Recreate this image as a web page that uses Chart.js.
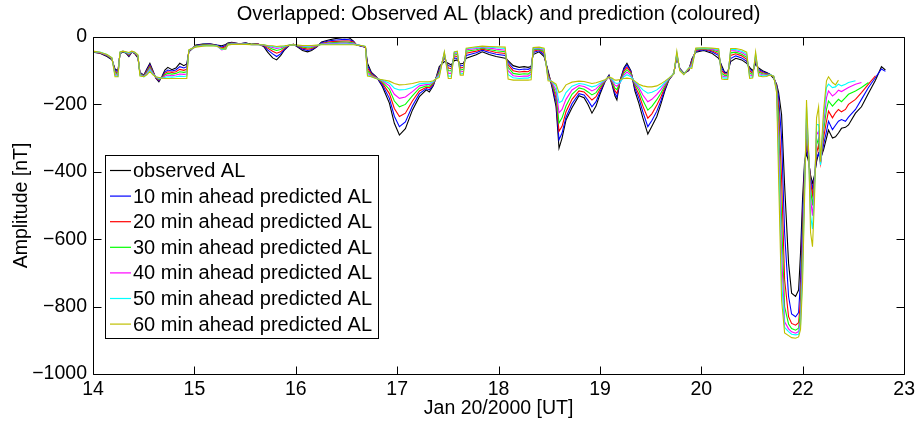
<!DOCTYPE html>
<html>
<head>
<meta charset="utf-8">
<title>Observed and predicted AL</title>
<script src="https://cdn.jsdelivr.net/npm/chart.js@4.4.0/dist/chart.umd.min.js"></script>
<style>
  html, body { margin: 0; padding: 0; background: #ffffff; }
  canvas { display: block; }
</style>
</head>
<body>
<canvas id="alChart" width="919" height="422"></canvas>
<script>
// Time of each sample, in axis units (one unit per labelled tick).
const tDays = [
  0, 0.069, 0.138, 0.187, 0.217, 0.246, 0.266, 0.295, 0.325, 0.354,
  0.384, 0.413, 0.443, 0.463, 0.502, 0.531, 0.561, 0.591, 0.620, 0.650,
  0.679, 0.709, 0.738, 0.778, 0.817, 0.856, 0.896, 0.925, 0.945, 0.974,
  1.014, 1.083, 1.152, 1.220, 1.270, 1.309, 1.329, 1.368, 1.447, 1.506,
  1.565, 1.624, 1.683, 1.722, 1.772, 1.811, 1.850, 1.890, 1.939, 1.978,
  2.018, 2.067, 2.116, 2.156, 2.205, 2.254, 2.333, 2.402, 2.480, 2.530,
  2.569, 2.598, 2.648, 2.687, 2.707, 2.746, 2.795, 2.854, 2.923, 2.972,
  3.022, 3.081, 3.150, 3.219, 3.287, 3.317, 3.356, 3.386, 3.415, 3.465,
  3.504, 3.533, 3.563, 3.593, 3.622, 3.652, 3.681, 3.780, 3.839, 3.907,
  3.976, 4.065, 4.094, 4.144, 4.203, 4.252, 4.291, 4.321, 4.341, 4.400,
  4.449, 4.488, 4.528, 4.567, 4.596, 4.626, 4.665, 4.724, 4.793, 4.843,
  4.882, 4.921, 4.961, 5.000, 5.049, 5.089, 5.118, 5.148, 5.167, 5.197,
  5.236, 5.266, 5.305, 5.344, 5.384, 5.423, 5.472, 5.512, 5.561, 5.600,
  5.640, 5.679, 5.728, 5.758, 5.787, 5.827, 5.876, 5.906, 5.945, 6.024,
  6.102, 6.171, 6.201, 6.230, 6.260, 6.289, 6.339, 6.398, 6.447, 6.476,
  6.506, 6.535, 6.565, 6.604, 6.644, 6.673, 6.713, 6.742, 6.762, 6.791,
  6.821, 6.860, 6.890, 6.929, 6.959, 6.978, 6.998, 7.018, 7.037, 7.057,
  7.077, 7.096, 7.116, 7.136, 7.156, 7.175, 7.205, 7.234, 7.254, 7.293,
  7.323, 7.352, 7.382, 7.421, 7.451, 7.520, 7.579, 7.648, 7.717, 7.776,
  7.815
];

const xTickLabels = ['14', '15', '16', '17', '18', '19', '20', '22', '23'];

// AL index [nT]
const observedAL = [
  -45, -48, -58, -68, -95, -100, -50, -44, -48, -58,
  -44, -50, -62, -105, -113, -95, -78, -100, -122, -133,
  -118, -98, -90, -97, -92, -78, -85, -80, -44, -36,
  -24, -21, -20, -24, -26, -22, -18, -16, -20, -17,
  -22, -20, -28, -45, -62, -68, -55, -38, -24, -22,
  -30, -40, -44, -40, -30, -15, -8, -4, -1, -3,
  -12, -24, -27, -30, -78, -105, -118, -147, -196, -256,
  -291, -272, -217, -177, -157, -163, -145, -118, -88, -73,
  -78, -83, -70, -68, -80, -78, -63, -53, -44, -52,
  -58, -63, -70, -85, -90, -88, -90, -88, -52, -44,
  -58, -100, -150, -207, -330, -300, -246, -210, -174, -180,
  -200, -226, -205, -170, -133, -113, -140, -175, -187, -130,
  -92, -78, -100, -160, -197, -240, -288, -265, -236, -200,
  -160, -128, -108, -58, -93, -108, -100, -65, -45, -40,
  -48, -63, -85, -105, -105, -73, -63, -68, -78, -90,
  -100, -80, -92, -100, -105, -110, -123, -140, -165, -230,
  -440, -671, -760, -770, -751, -640, -480, -370, -345, -370,
  -410, -434, -410, -370, -345, -360, -335, -300, -276, -300,
  -296, -285, -271, -268, -261, -226, -207, -167, -128, -88,
  -98
];

const pred10 = [
  -45, -47, -56, -66, -98, -104, -49, -44, -47, -56,
  -44, -49, -60, -106, -114, -98, -82, -102, -122, -130,
  -120, -104, -98, -101, -98, -88, -92, -88, -43, -36,
  -25, -22, -21, -24, -30, -25, -19, -17, -20, -18,
  -22, -21, -26, -38, -50, -58, -50, -36, -24, -22,
  -28, -36, -40, -37, -29, -17, -11, -9, -7, -8,
  -13, -23, -27, -30, -85, -108, -119, -142, -182, -235,
  -266, -252, -205, -168, -153, -157, -142, -119, -95, -62,
  -85, -88, -62, -64, -86, -84, -55, -47, -39, -46,
  -51, -55, -75, -93, -97, -95, -96, -92, -46, -41,
  -52, -105, -145, -195, -305, -285, -238, -198, -168, -172,
  -188, -207, -192, -163, -132, -115, -137, -168, -178, -132,
  -96, -83, -102, -152, -182, -222, -266, -248, -220, -190,
  -155, -127, -108, -56, -94, -108, -98, -68, -42, -38,
  -44, -55, -92, -107, -107, -64, -56, -62, -72, -95,
  -104, -74, -96, -103, -107, -110, -120, -142, -180, -300,
  -580, -770, -822, -830, -818, -720, -530, -385, -325, -360,
  -420, -450, -415, -360, -345, -370, -320, -280, -250, -275,
  -262, -250, -245, -250, -238, -215, -185, -150, -120, -95,
  -102
];

const pred20 = [
  -44, -47, -55, -65, -102, -108, -48, -43, -46, -54,
  -44, -48, -58, -108, -115, -101, -86, -104, -121, -128,
  -121, -108, -103, -105, -103, -96, -99, -96, -42, -35,
  -26, -23, -22, -25, -33, -28, -20, -18, -20, -19,
  -22, -21, -25, -33, -42, -48, -44, -33, -24, -22,
  -27, -33, -36, -34, -28, -19, -14, -13, -12, -12,
  -15, -23, -26, -30, -92, -111, -120, -137, -168, -212,
  -236, -226, -190, -160, -149, -151, -139, -120, -100, -56,
  -92, -94, -56, -58, -92, -90, -48, -42, -36, -41,
  -46, -49, -82, -100, -104, -102, -103, -97, -42, -38,
  -47, -110, -140, -182, -280, -265, -222, -185, -160, -163,
  -175, -187, -177, -155, -131, -117, -134, -160, -167, -134,
  -101, -90, -105, -145, -170, -205, -241, -228, -202, -178,
  -150, -126, -108, -54, -95, -108, -96, -72, -39, -36,
  -41, -50, -100, -110, -110, -55, -50, -56, -66, -100,
  -108, -68, -100, -106, -109, -111, -118, -145, -210, -420,
  -720, -830, -850, -855, -848, -780, -580, -400, -301, -350,
  -430, -470, -420, -345, -320, -375, -300, -250, -220, -240,
  -225, -215, -222, -215, -200, -185, -165, -140, -115, null,
  null
];

const pred30 = [
  -44, -46, -54, -64, -106, -112, -47, -43, -46, -52,
  -43, -47, -56, -110, -116, -104, -90, -106, -120, -126,
  -122, -112, -108, -110, -108, -103, -105, -103, -41, -35,
  -27, -24, -23, -25, -36, -32, -21, -19, -21, -20,
  -22, -22, -24, -29, -36, -40, -37, -30, -24, -23,
  -26, -30, -32, -31, -27, -20, -17, -16, -15, -16,
  -17, -23, -26, -29, -100, -114, -121, -133, -155, -190,
  -207, -200, -175, -152, -145, -146, -136, -121, -105, -51,
  -100, -100, -50, -52, -98, -96, -42, -38, -33, -37,
  -41, -44, -90, -108, -111, -109, -110, -103, -38, -36,
  -43, -115, -137, -170, -255, -240, -205, -170, -151, -155,
  -163, -172, -165, -148, -130, -118, -131, -152, -156, -135,
  -107, -97, -109, -140, -158, -188, -217, -206, -186, -167,
  -145, -125, -108, -52, -96, -109, -94, -77, -37, -35,
  -38, -45, -108, -114, -114, -47, -45, -51, -60, -106,
  -112, -62, -104, -109, -111, -111, -117, -150, -250, -540,
  -800, -852, -865, -870, -864, -815, -620, -420, -270, -345,
  -450, -500, -430, -320, -300, -378, -280, -215, -190, -205,
  -195, -185, -192, -180, -170, -160, -150, -135, null, null,
  null
];

const pred40 = [
  -43, -46, -53, -63, -110, -115, -46, -42, -45, -50,
  -43, -46, -55, -112, -117, -107, -94, -108, -119, -124,
  -122, -116, -113, -115, -113, -110, -111, -110, -40, -34,
  -28, -25, -24, -26, -38, -35, -22, -20, -21, -21,
  -23, -22, -24, -27, -31, -34, -32, -28, -24, -23,
  -25, -28, -29, -28, -26, -21, -19, -19, -18, -19,
  -19, -23, -26, -29, -107, -116, -122, -130, -145, -170,
  -182, -178, -162, -145, -141, -141, -134, -122, -110, -48,
  -108, -108, -47, -48, -104, -102, -38, -34, -31, -33,
  -36, -39, -100, -115, -117, -116, -116, -110, -35, -34,
  -39, -120, -135, -158, -225, -215, -185, -157, -144, -147,
  -153, -160, -154, -142, -129, -119, -128, -143, -146, -136,
  -113, -104, -114, -136, -150, -172, -192, -185, -170, -156,
  -140, -124, -109, -50, -97, -110, -93, -82, -35, -34,
  -36, -41, -115, -118, -118, -41, -41, -46, -55, -112,
  -116, -56, -108, -112, -113, -112, -116, -155, -300, -640,
  -845, -866, -875, -879, -874, -840, -660, -440, -241, -340,
  -480, -530, -440, -290, -280, -380, -260, -180, -160, -175,
  -168, -158, -162, -155, -150, -140, -135, null, null, null,
  null
];

const pred50 = [
  -43, -45, -52, -62, -114, -117, -45, -42, -45, -48,
  -43, -46, -54, -114, -118, -110, -98, -110, -118, -122,
  -122, -120, -118, -119, -118, -116, -117, -116, -39, -34,
  -29, -26, -25, -26, -37, -36, -23, -21, -22, -21,
  -23, -23, -23, -26, -28, -30, -29, -27, -24, -23,
  -25, -26, -27, -26, -25, -22, -21, -21, -21, -21,
  -21, -23, -25, -28, -112, -118, -123, -128, -137, -152,
  -157, -156, -150, -139, -137, -137, -132, -123, -115, -46,
  -116, -116, -45, -45, -110, -108, -35, -31, -29, -30,
  -32, -34, -112, -121, -123, -122, -122, -118, -33, -32,
  -36, -125, -133, -146, -195, -190, -165, -146, -138, -140,
  -144, -148, -145, -137, -128, -119, -125, -136, -138, -135,
  -118, -112, -118, -133, -144, -157, -167, -164, -157, -147,
  -135, -123, -109, -47, -98, -111, -92, -88, -34, -33,
  -34, -38, -120, -122, -122, -37, -37, -42, -50, -118,
  -119, -50, -112, -115, -115, -112, -116, -160, -360, -720,
  -862, -874, -882, -884, -882, -855, -700, -460, -207, -335,
  -530, -570, -460, -260, -260, -380, -240, -150, -140, -150,
  -148, -140, -145, -140, -135, -130, null, null, null, null,
  null
];

const pred60 = [
  -42, -45, -52, -62, -118, -118, -44, -42, -44, -46,
  -42, -45, -53, -116, -118, -112, -102, -112, -118, -120,
  -122, -123, -123, -123, -123, -123, -123, -123, -38, -34,
  -30, -27, -26, -27, -35, -36, -24, -22, -22, -22,
  -23, -23, -23, -25, -26, -28, -27, -26, -24, -23,
  -24, -25, -25, -25, -24, -23, -23, -23, -23, -23,
  -23, -24, -25, -28, -116, -118, -124, -127, -131, -138,
  -142, -141, -138, -133, -133, -133, -130, -124, -120, -44,
  -123, -123, -44, -42, -113, -113, -33, -29, -27, -28,
  -29, -30, -125, -128, -128, -128, -128, -127, -31, -30,
  -33, -130, -132, -140, -165, -160, -142, -134, -131, -132,
  -135, -138, -136, -132, -127, -119, -122, -128, -128, -126,
  -123, -122, -124, -131, -140, -145, -148, -148, -145, -139,
  -131, -122, -110, -42, -100, -112, -92, -93, -33, -32,
  -33, -35, -125, -126, -126, -34, -34, -38, -45, -123,
  -122, -44, -116, -118, -117, -113, -116, -165, -420, -780,
  -878, -886, -892, -894, -890, -868, -730, -480, -187, -330,
  -580, -622, -480, -240, -207, -370, -220, -130, -118, -135,
  -142, -128, null, null, null, null, null, null, null, null,
  null
];

const seriesNames = [
  'observed AL',
  '10 min ahead predicted AL',
  '20 min ahead predicted AL',
  '30 min ahead predicted AL',
  '40 min ahead predicted AL',
  '50 min ahead predicted AL',
  '60 min ahead predicted AL'
];
const seriesValues = [observedAL, pred10, pred20, pred30, pred40, pred50, pred60];
const seriesColors = ['#000000', '#0000ff', '#ff0000', '#00ff00', '#ff00ff', '#00ffff', '#bfbf00'];

const chartTitle = 'Overlapped: Observed AL (black) and prediction (coloured)';

const FONT_FAMILY = "'Liberation Sans', Arial, Helvetica, sans-serif";
const TEXT_SIZE = 19.5;
const BIG_TEXT = 20;

const datasets = seriesValues.map((vals, i) => ({
  label: seriesNames[i],
  data: vals.map((v, k) => ({ x: tDays[k], y: v })),
  borderColor: seriesColors[i],
  backgroundColor: seriesColors[i],
  borderWidth: 1.1,
  pointRadius: 0,
  tension: 0,
  spanGaps: false,
  // later series sit on top of earlier ones
  order: seriesValues.length - 1 - i
}));

// Title over the plot, box around the axes, inward ticks on all four sides, legend.
const axesBoxAndLegend = {
  id: 'axesBoxAndLegend',
  afterDatasetsDraw(chart) {
    const { ctx, chartArea: a, scales } = chart;
    const xs = scales.x, ys = scales.y;
    const TICK = 8;
    ctx.save();

    ctx.fillStyle = '#000000';
    ctx.font = BIG_TEXT + 'px ' + FONT_FAMILY;
    ctx.textAlign = 'center';
    ctx.textBaseline = 'middle';
    ctx.fillText(chartTitle, (a.left + a.right) / 2, 14.5);

    ctx.strokeStyle = '#000000';
    ctx.lineWidth = 1;
    const L = Math.round(a.left) + 0.5, R = Math.round(a.right) + 0.5;
    const T = Math.round(a.top) + 0.5, B = Math.round(a.bottom) + 0.5;
    ctx.beginPath();
    ctx.rect(L, T, R - L, B - T);
    ctx.stroke();

    ctx.beginPath();
    xs.ticks.forEach(t => {
      const px = Math.round(xs.getPixelForValue(t.value)) + 0.5;
      ctx.moveTo(px, B); ctx.lineTo(px, B - TICK);
      ctx.moveTo(px, T); ctx.lineTo(px, T + TICK);
    });
    ys.ticks.forEach(t => {
      const py = Math.round(ys.getPixelForValue(t.value)) + 0.5;
      ctx.moveTo(L, py); ctx.lineTo(L + TICK, py);
      ctx.moveTo(R, py); ctx.lineTo(R - TICK, py);
    });
    ctx.stroke();

    // legend
    const box = { x: 105.5, y: 155.5, w: 273, h: 183 };
    ctx.fillStyle = '#ffffff';
    ctx.fillRect(box.x, box.y, box.w, box.h);
    ctx.strokeRect(box.x, box.y, box.w, box.h);
    ctx.font = BIG_TEXT + 'px ' + FONT_FAMILY;
    ctx.textAlign = 'left';
    ctx.textBaseline = 'middle';
    chart.data.datasets.forEach((ds, i) => {
      const rowY = 171.5 + i * 25.6;
      ctx.strokeStyle = ds.borderColor;
      ctx.lineWidth = 1.2;
      ctx.beginPath();
      ctx.moveTo(110, rowY - 1);
      ctx.lineTo(131, rowY - 1);
      ctx.stroke();
      ctx.fillStyle = '#000000';
      ctx.fillText(ds.label, 133, rowY);
    });
    ctx.restore();
  }
};

const textFont = { family: FONT_FAMILY, size: TEXT_SIZE };

new Chart(document.getElementById('alChart'), {
  type: 'line',
  data: { datasets },
  options: {
    responsive: false,
    animation: false,
    devicePixelRatio: 1,
    events: [],
    layout: { padding: { left: 0, right: 13, top: 37, bottom: 0 } },
    plugins: {
      legend: { display: false },
      tooltip: { enabled: false },
      title: { display: false }
    },
    scales: {
      x: {
        type: 'linear',
        min: 0,
        max: xTickLabels.length - 1,
        afterBuildTicks(scale) {
          scale.ticks = xTickLabels.map((_, i) => ({ value: i }));
        },
        afterFit(scale) { scale.height = 48; },
        grid: { display: false, drawTicks: false },
        border: { display: false },
        ticks: {
          autoSkip: false,
          maxRotation: 0,
          padding: 4,
          color: '#000000',
          font: textFont,
          callback: (v) => xTickLabels[v]
        },
        title: {
          display: true,
          text: 'Jan 20/2000 [UT]',
          color: '#000000',
          font: textFont,
          padding: { top: 0, bottom: 1.5 }
        }
      },
      y: {
        type: 'linear',
        min: -1000,
        max: 0,
        afterFit(scale) { scale.width = 93; },
        grid: { display: false, drawTicks: false },
        border: { display: false },
        ticks: {
          stepSize: 200,
          padding: 6,
          color: '#000000',
          font: textFont,
          callback: (v) => (v < 0 ? '\u2212' + Math.abs(v) : String(v))
        },
        title: {
          display: true,
          text: 'Amplitude [nT]',
          color: '#000000',
          font: textFont,
          padding: { top: 10, bottom: 0 }
        }
      }
    }
  },
  plugins: [axesBoxAndLegend]
});
</script>
</body>
</html>
